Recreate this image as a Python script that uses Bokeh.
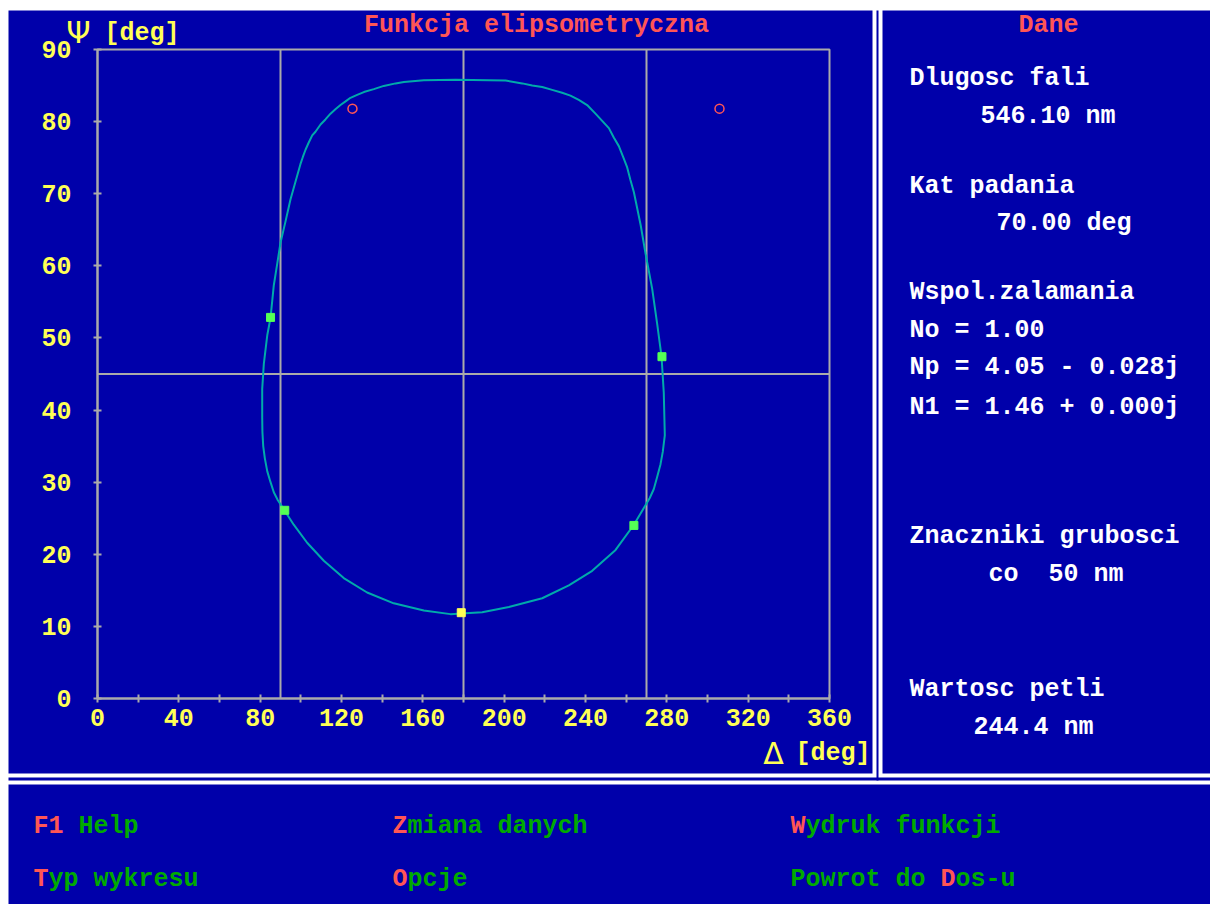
from bokeh.plotting import figure
from bokeh.models import Range1d, FixedTicker, Label, BoxAnnotation, LinearAxis
from bokeh.embed import file_html
from bokeh.resources import INLINE

# ---------------- data ----------------
# Psi-Delta trajectory (Delta [deg], Psi [deg]) going round the loop
DELTA = [178.9, 173.6, 160.5, 145.7, 132.6, 121.1, 111.3, 103.1, 96.5, 90.8,
         88.7, 86.7, 85.1, 83.5, 82.3, 81.5, 81.1, 81.0, 81.0, 81.8,
         83.5, 85.1, 86.7, 88.4, 90.0, 92.5, 94.9, 97.4, 99.8, 101.0,
         102.3, 103.9, 105.6, 107.2, 109.7, 112.1, 114.6, 117.0, 119.5, 122.0,
         124.4, 127.7, 131.0, 135.9, 140.8, 146.6, 150.7, 160.5, 176.1, 200.7,
         208.9, 213.8, 218.7, 223.6, 228.5, 232.6, 236.7, 240.8, 244.9, 248.2,
         251.5, 253.9, 256.4, 258.5, 260.5, 262.1, 263.8, 267.1, 269.5, 272.8,
         275.3, 277.4, 278.5, 279.0, 278.0, 276.9, 275.3, 273.6, 271.6, 269.5,
         263.8, 254.8, 243.3, 231.8, 218.7, 202.3, 189.2, 178.9]
PSI = [11.8, 11.7, 12.2, 13.2, 14.7, 16.7, 19.1, 21.6, 24.1, 26.6,
       27.5, 28.6, 30.0, 31.5, 33.3, 35.0, 37.0, 39.0, 42.9, 46.4,
       50.4, 52.8, 57.3, 60.3, 63.2, 66.2, 69.2, 71.7, 74.1, 75.1,
       76.1, 77.1, 78.1, 78.6, 79.6, 80.3, 81.1, 81.7, 82.3, 82.8,
       83.3, 83.7, 84.1, 84.5, 84.95, 85.3, 85.5, 85.75, 85.8, 85.7,
       85.3, 85.0, 84.8, 84.4, 84.0, 83.6, 83.0, 82.3, 81.1, 80.1,
       79.1, 77.8, 76.6, 75.1, 73.65, 71.9, 70.2, 65.7, 61.75, 56.8,
       51.85, 47.4, 42.4, 36.5, 34.2, 32.5, 30.8, 29.05, 27.8, 26.8,
       24.1, 20.6, 17.7, 15.7, 13.9, 12.7, 11.96, 11.8]

# thickness markers every 50 nm
MARK_DELTA = [92.1, 85.1, 277.6, 263.8]
MARK_PSI = [26.1, 52.85, 47.4, 24.0]
# starting point (d = 0)
START_DELTA = [178.9]
START_PSI = [11.9]
# red circles
POLE_DELTA = [125.4, 305.9]
POLE_PSI = [81.8, 81.8]

X_MIN, X_MAX = 0, 360
Y_MIN, Y_MAX = 0, 90
X_TICKS = [0, 40, 80, 120, 160, 200, 240, 280, 320, 360]
X_MINOR_TICKS = [20, 60, 100, 140, 180, 220, 260, 300, 340]
Y_TICKS = [0, 10, 20, 30, 40, 50, 60, 70, 80, 90]
GRID_X = [90, 180, 270]
GRID_Y = [45]

TITLE = "Funkcja elipsometryczna"
PANEL_TITLE = "Dane"
PANEL_LINES = [
    ("Dlugosc fali", 909, 78),
    ("546.10 nm", 980, 116),
    ("Kat padania", 909, 186),
    ("70.00 deg", 996, 223),
    ("Wspol.zalamania", 909, 292),
    ("No = 1.00", 909, 330),
    ("Np = 4.05 - 0.028j", 909, 367),
    ("N1 = 1.46 + 0.000j", 909, 407),
    ("Znaczniki grubosci", 909, 536),
    ("co", 988, 574),
    ("50 nm", 1048, 574),
    ("Wartosc petli", 909, 689),
    ("244.4 nm", 973, 727),
]
# menu: (segments[(text, is_hotkey)], x, y)
MENU = [
    ([("F1", True), (" Help", False)], 33, 826),
    ([("Z", True), ("miana danych", False)], 392, 826),
    ([("W", True), ("ydruk funkcji", False)], 790, 826),
    ([("T", True), ("yp wykresu", False)], 33, 879),
    ([("O", True), ("pcje", False)], 392, 879),
    ([("Powrot do ", False), ("D", True), ("os-u", False)], 790, 879),
]

# ---------------- style ----------------
BLUE = "#0000aa"
GREY = "#aaaaaa"
YELLOW = "#ffff55"
RED = "#ff5555"
GREEN_TXT = "#00aa00"
TEAL = "#00aaaa"
GREEN_MARK = "#55ff55"
WHITE = "#ffffff"
MONO = "Liberation Mono"
FS = 25
ADV = 0.6 * FS

W, H = 1210, 904
# pixel position of the data box on the canvas
PX0, PX1 = 97, 829      # Delta 0 .. 360
PY0, PY1 = 698, 49      # Psi 0 .. 90
kx = (PX1 - PX0) / (X_MAX - X_MIN)
ky = (PY0 - PY1) / (Y_MAX - Y_MIN)
x_range = Range1d(X_MIN - PX0 / kx, X_MAX + (W - PX1) / kx)
y_range = Range1d(Y_MIN - (H - PY0) / ky, Y_MAX + PY1 / ky)

p = figure(width=W, height=H, output_backend="svg", toolbar_location=None,
           x_range=x_range, y_range=y_range,
           x_axis_location=None, y_axis_location=None,
           min_border=0, min_border_left=0, min_border_right=0,
           min_border_top=0, min_border_bottom=0,
           background_fill_color=WHITE, border_fill_color=WHITE,
           outline_line_color=None)
p.grid.visible = False


def sx(x):  # canvas pixel -> screen units
    return x


def sy(y):
    return H - y


def box(l, t, r, b, color):
    p.add_layout(BoxAnnotation(left=sx(l), right=sx(r), top=sy(t), bottom=sy(b),
                               left_units="screen", right_units="screen",
                               top_units="screen", bottom_units="screen",
                               fill_color=color, fill_alpha=1.0, line_alpha=0,
                               level="image"))


# panels
box(8, 10, 872, 773, BLUE)          # chart panel
box(882, 10, 1215, 773, BLUE)       # data panel
box(8, 784, 1215, 910, BLUE)        # menu panel
box(876, 10, 878, 780, BLUE)        # thin dark separator (vertical)
box(8, 777, 1215, 780, BLUE)        # thin dark separator (horizontal)

# grid lines and plot box
p.segment(x0=GRID_X, y0=[Y_MIN] * len(GRID_X), x1=GRID_X, y1=[Y_MAX] * len(GRID_X),
          line_color=GREY, line_width=2)
p.segment(x0=[X_MIN] * len(GRID_Y), y0=GRID_Y, x1=[X_MAX] * len(GRID_Y), y1=GRID_Y,
          line_color=GREY, line_width=2)
p.quad(left=[X_MIN], right=[X_MAX], bottom=[Y_MIN], top=[Y_MAX],
       fill_color=None, line_color=GREY, line_width=2)

# axes drawn at fixed data locations
xaxis = LinearAxis(fixed_location=Y_MIN, bounds=(X_MIN, X_MAX),
                   ticker=FixedTicker(ticks=X_TICKS, minor_ticks=X_MINOR_TICKS))
yaxis = LinearAxis(fixed_location=X_MIN, bounds=(Y_MIN, Y_MAX),
                   ticker=FixedTicker(ticks=Y_TICKS))
p.add_layout(xaxis, "below")
p.add_layout(yaxis, "left")
for ax in (xaxis, yaxis):
    ax.axis_line_color = GREY
    ax.axis_line_width = 2
    ax.major_tick_line_color = GREY
    ax.major_tick_line_width = 2
    ax.major_tick_in = 4
    ax.major_tick_out = 4
    ax.minor_tick_line_color = GREY
    ax.minor_tick_line_width = 2
    ax.minor_tick_in = 4
    ax.minor_tick_out = 4
    ax.major_label_text_color = YELLOW
    ax.major_label_text_font = MONO
    ax.major_label_text_font_style = "bold"
    ax.major_label_text_font_size = f"{FS}px"
xaxis.major_label_standoff = 6
yaxis.minor_tick_line_color = None
yaxis.major_label_standoff = 22

# data
p.line(DELTA, PSI, line_color=TEAL, line_width=2)
p.scatter(MARK_DELTA, MARK_PSI, marker="square", size=8, fill_color=GREEN_MARK,
          line_color=GREEN_MARK)
p.scatter(START_DELTA, START_PSI, marker="square", size=8, fill_color=YELLOW,
          line_color=YELLOW)
p.scatter(POLE_DELTA, POLE_PSI, marker="circle", size=9, fill_color=None,
          line_color=RED, line_width=1.5)


def lab(text, x, y, color, size=FS, align="left", font=MONO, style="bold"):
    p.add_layout(Label(x=sx(x), y=sy(y), x_units="screen", y_units="screen",
                       text=text, text_color=color, text_font=font,
                       text_font_size=f"{size}px", text_font_style=style,
                       text_align=align, text_baseline="middle"))


# titles & axis names
lab(TITLE, 536, 25, RED, align="center")
lab("Ψ", 78, 31, YELLOW, size=31, align="center", font="DejaVu Sans", style="normal")
lab("[deg]", 104, 33, YELLOW)
lab("Δ", 773, 753, YELLOW, size=30, align="center", font="DejaVu Sans", style="normal")
lab("[deg]", 795, 753, YELLOW)

# data panel
lab(PANEL_TITLE, 1048, 25, RED, align="center")
for text, x, y in PANEL_LINES:
    lab(text, x, y, WHITE)

# menu
for segs, x, y in MENU:
    pos = 0
    for text, hot in segs:
        stripped = text.lstrip(" ")
        pos += len(text) - len(stripped)
        body = stripped.rstrip(" ")
        if body:
            lab(body, x + pos * ADV, y, RED if hot else GREEN_TXT)
        pos += len(stripped)

open("out.html", "w").write(file_html(p, INLINE))
